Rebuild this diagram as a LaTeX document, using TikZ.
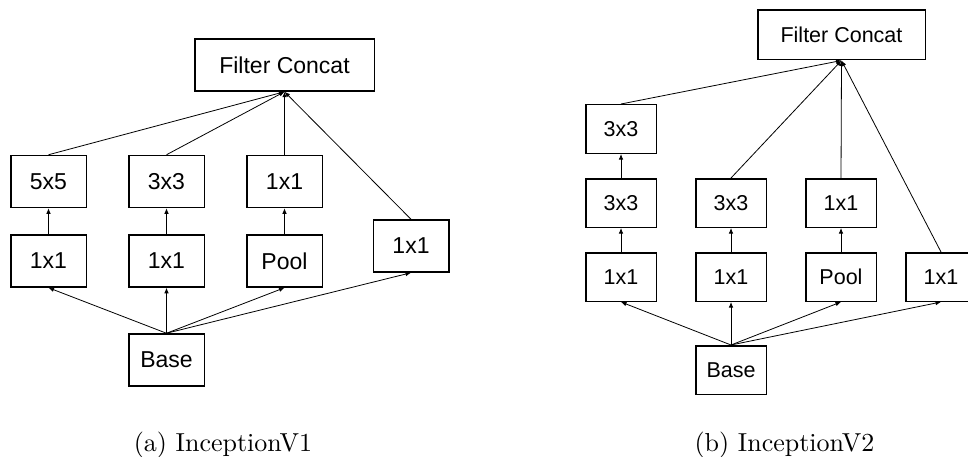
\documentclass[tikz,border=0pt]{standalone}
\usepackage{fontspec}
\newfontfamily\boxfont{Liberation Sans}
\usetikzlibrary{arrows.meta,positioning}

\tikzset{
    layer/.style={draw, line width=1.5pt, inner sep=0pt},
    layerA/.style={layer, minimum width=75.5pt, minimum height=52pt, font=\boxfont\fontsize{23}{26}\selectfont},
    layerB/.style={layer, minimum width=70.5pt, minimum height=48.5pt, font=\boxfont\fontsize{21.5}{24}\selectfont},
    flow/.style={line width=0.8pt, -{Latex[length=5.5pt,width=4.5pt]}},
    caption/.style={anchor=base, inner sep=0pt}
}
\newcommand{\subcap}[1]{\scalebox{2.6}{\fontsize{10}{12}\selectfont #1}}

\begin{document}
\begin{tikzpicture}[x=1pt, y=1pt]
        \useasboundingbox (0,0) rectangle (968,456);

        % InceptionV1
        \node[layerA] (baseA) at (166.5,96) {Base};
        \node[layerA] (a1) at (48.5,195) {1x1};
        \node[layerA] (b1) at (166.5,195) {1x1};
        \node[layerA] (c1) at (284.5,195) {Pool};
        \node[layerA, above=26pt of a1] (a2) {5x5};
        \node[layerA, above=26pt of b1] (b2) {3x3};
        \node[layerA, above=26pt of c1] (c2) {1x1};
        \node[layerA] (d1) at (411,210) {1x1};
        \node[layerA, minimum width=179.5pt] (catA) at (284.5,391) {Filter Concat};

        % Connect the layers
        \draw[flow] (baseA.north) -- (a1.south);
        \draw[flow] (baseA.north) -- (b1.south);
        \draw[flow] (baseA.north) -- (c1.south);
        \draw[flow] (baseA.north) -- (d1.south);
        \draw[flow] (a1) -- (a2);
        \draw[flow] (b1) -- (b2);
        \draw[flow] (c1) -- (c2);
        \draw[flow] (a2.north) -- (catA.south);
        \draw[flow] (b2.north) -- (catA.south);
        \draw[flow] (c2.north) -- (catA.south);
        \draw[flow] (d1.north) -- (catA.south);

        \node[caption] (capA) at (223,5) {\subcap{(a) InceptionV1}};

        % InceptionV2
        \node[layerB] (baseB) at (731,86) {Base};
        \node[layerB] (p1) at (621,179) {1x1};
        \node[layerB] (q1) at (731,179) {1x1};
        \node[layerB] (r1) at (841,179) {Pool};
        \node[layerB] (s1) at (941,179) {1x1};
        \node[layerB, above=24pt of p1] (p2) {3x3};
        \node[layerB, above=24pt of p2] (p3) {3x3};
        \node[layerB, above=24pt of q1] (q2) {3x3};
        \node[layerB, above=24pt of r1] (r2) {1x1};
        \node[layerB, minimum width=167.5pt, minimum height=49.5pt] (catB) at (841.5,421) {Filter Concat};

        % Connect the layers
        \draw[flow] (baseB.north) -- (p1.south);
        \draw[flow] (baseB.north) -- (q1.south);
        \draw[flow] (baseB.north) -- (r1.south);
        \draw[flow] (baseB.north) -- (s1.south);
        \draw[flow] (p1) -- (p2);
        \draw[flow] (p2) -- (p3);
        \draw[flow] (q1) -- (q2);
        \draw[flow] (r1) -- (r2);
        \draw[flow] (p3.north) -- (catB.south);
        \draw[flow] (q2.north) -- (catB.south);
        \draw[flow] (r2.north) -- (catB.south);
        \draw[flow] (s1.north) -- (catB.south);

        \node[caption] (capB) at (784.5,5) {\subcap{(b) InceptionV2}};
\end{tikzpicture}
\end{document}
